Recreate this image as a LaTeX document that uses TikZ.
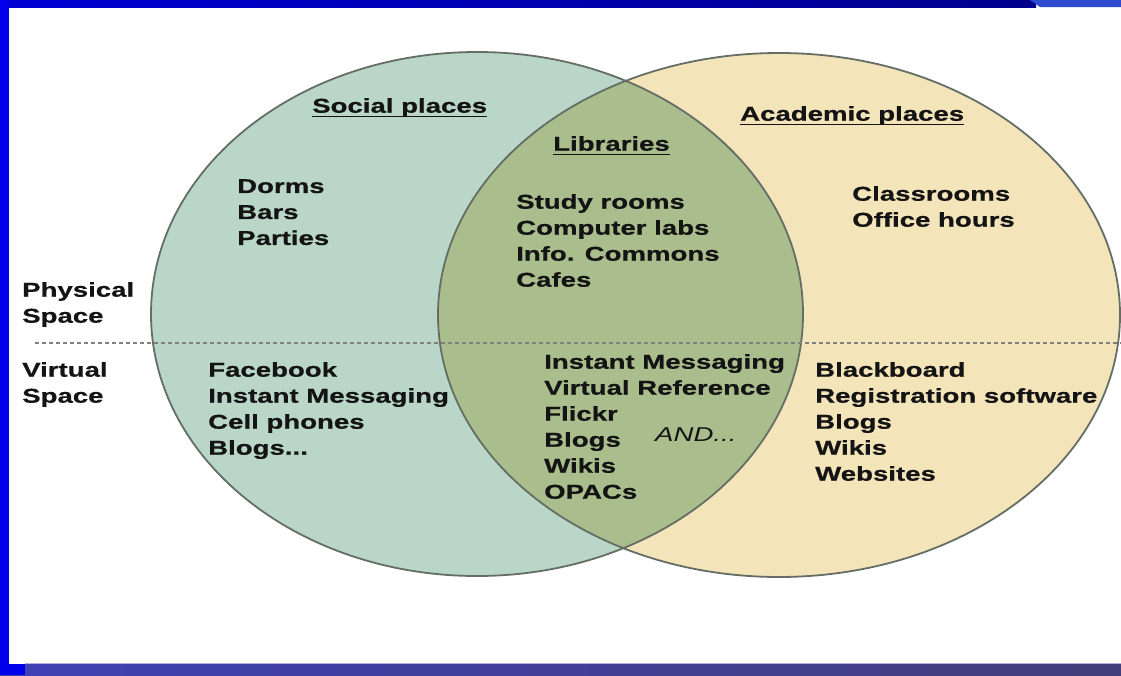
\documentclass[tikz,border=0pt]{standalone}
\usepackage{fontspec}
\newfontfamily\vennfont[FakeStretch=1.38, BoldFeatures={FakeBold=0.6}]{Liberation Sans}
\definecolor{cadrebleu}{RGB}{0,0,235}
\definecolor{cadrenuit}{RGB}{0,0,140}
\definecolor{cadreclair}{RGB}{45,75,205}
\definecolor{basbleu}{RGB}{64,64,180}
\definecolor{basnuit}{RGB}{66,62,122}
\definecolor{socialfond}{RGB}{185,214,200}
\definecolor{academfond}{RGB}{243,228,186}
\definecolor{commun}{RGB}{170,189,140}
\definecolor{bordgris}{RGB}{100,110,100}
\definecolor{texte}{RGB}{20,20,20}
\tikzset{
  liste/.style={font=\vennfont\bfseries\fontsize{20}{26}\selectfont, text=texte,
    inner sep=0pt, anchor=north west, align=left},
  titre/.style={liste},
  souligne/.style={draw=texte, line width=1.6pt},
  bord/.style={draw=bordgris, line width=1.8pt},
  pointilles/.style={draw=gray, line width=1.2pt, dash pattern=on 4pt off 3pt}
}
\begin{document}
\begin{tikzpicture}[x=1pt,y=-1pt]
            \useasboundingbox (0,0) rectangle (1121,675);
            % Cadre bleu
            \fill[cadrebleu] (0,0) rectangle (9,664);
            \shade[left color=cadrebleu!90!black, right color=cadrenuit] (9,0) rectangle (1036,7);
            \fill[cadreclair] (1030,0) -- (1121,0) -- (1121,7) -- (1040,7) -- cycle;
            \shade[left color=basbleu, right color=basnuit] (0,664) rectangle (1121,675);
            \fill[cadrebleu] (0,664) rectangle (25,675);
            \draw[basbleu!40, line width=1pt] (25,663.5) -- (1121,663.5);

            % Centres des ensembles
            \coordinate (socialc) at (477,314);
            \coordinate (academc) at (779,315);

            % Ensembles et partie commune
            \fill[socialfond] (socialc) ellipse [x radius=326, y radius=262];
            \fill[academfond] (academc) ellipse [x radius=341, y radius=262];
            \begin{scope}
              \clip (socialc) ellipse [x radius=326, y radius=262];
              \fill[commun] (academc) ellipse [x radius=341, y radius=262];
            \end{scope}
            \draw[bord] (socialc) ellipse [x radius=326, y radius=262];
            \draw[bord] (academc) ellipse [x radius=341, y radius=262];

            % Limite physique / virtuel
            \coordinate (lignegauche) at (35,343);
            \coordinate (lignedroite) at (1121,343);
            \draw[pointilles] (lignegauche) -- (lignedroite);

            % Titres
            \node[titre] (social) at (312,98) {Social places};
            \node[titre] (biblio) at (553,136) {Libraries};
            \node[titre] (academ) at (740,106) {Academic places};
            \draw[souligne] ([yshift=-4pt]social.base west) -- ([yshift=-4pt]social.base east);
            \draw[souligne] ([yshift=-4pt]biblio.base west) -- ([yshift=-4pt]biblio.base east);
            \draw[souligne] ([yshift=-4pt]academ.base west) -- ([yshift=-4pt]academ.base east);

            % Espace physique
            \node[liste] (physique) at (22,282) {Physical\\Space};
            \node[liste] (dortoirs) at (237,179) {Dorms\\Bars\\Parties};
            \node[liste] (salles) at (516,194) {Study rooms\\Computer labs\\Info. Commons\\Cafes};
            \node[liste] (cours) at (852,186) {Classrooms\\Office hours};

            % Espace virtuel
            \node[liste] (virtuel) at (22,362) {Virtual\\Space};
            \node[liste] (reseaux) at (208,362) {Facebook\\Instant Messaging\\Cell phones\\Blogs...};
            \node[liste] (outils) at (544,354) {Instant Messaging\\Virtual Reference\\Flickr\\Blogs\\Wikis\\OPACs};
            \node[liste, font=\vennfont\itshape\fontsize{20}{26}\selectfont] (etaussi) at (655,428) {AND...};
            \node[liste] (plateformes) at (815,362) {Blackboard\\Registration software\\Blogs\\Wikis\\Websites};
\end{tikzpicture}
\end{document}
